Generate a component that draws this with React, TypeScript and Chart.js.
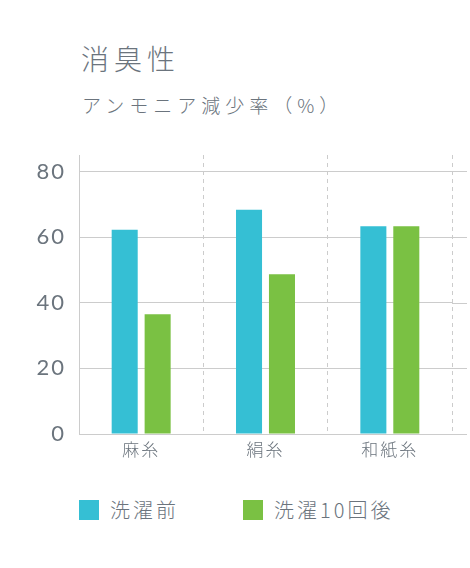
import { useEffect, useRef } from 'react';
import { Chart, registerables } from 'chart.js';

Chart.register(...registerables);

const categories = ['麻糸', '絹糸', '和紙糸'];
const seriesLabels = ['洗濯前', '洗濯10回後'];
const beforeWash = [62.2, 68.3, 63.3];
const afterWash = [36.5, 48.7, 63.3];
const seriesColors = ['#35bfd4', '#7ac143'];
const yMax = 85;
const yStep = 20;

const TEXT = '#6b747d';
const GRID = '#cccccc';
const CJK = "'Noto Sans CJK JP', sans-serif";

// canvas text gets a bit of tracking, like the rest of the page
const spacingPlugin = {
  id: 'spacing',
  beforeDraw(chart: any) {
    chart.ctx.letterSpacing = '2px';
  },
};

// horizontal rules run a little past the last category boundary
const gridTailPlugin = {
  id: 'gridTail',
  afterDraw(chart: any) {
    const { ctx, chartArea, scales } = chart;
    const y = scales.y;
    ctx.save();
    ctx.strokeStyle = GRID;
    ctx.lineWidth = 1;
    y.ticks.forEach((t: any) => {
      const py = Math.round(y.getPixelForValue(t.value)) + 0.5;
      ctx.beginPath();
      ctx.moveTo(chartArea.right, py);
      ctx.lineTo(chartArea.right + 15, py);
      ctx.stroke();
    });
    ctx.restore();
  },
};

function BarChart() {
  const canvasRef = useRef<HTMLCanvasElement | null>(null);

  useEffect(() => {
    if (!canvasRef.current) return;
    const chart = new Chart(canvasRef.current, {
      type: 'bar',
      data: {
        labels: categories,
        datasets: [
          {
            label: seriesLabels[0],
            data: beforeWash,
            backgroundColor: seriesColors[0],
            categoryPercentage: 0.53,
            barPercentage: 0.79,
          },
          {
            label: seriesLabels[1],
            data: afterWash,
            backgroundColor: seriesColors[1],
            categoryPercentage: 0.53,
            barPercentage: 0.79,
          },
        ],
      },
      options: {
        animation: false,
        responsive: true,
        maintainAspectRatio: false,
        layout: { padding: { top: 15, right: 18, bottom: 0, left: 0 } },
        plugins: {
          legend: { display: false },
          tooltip: { enabled: false },
        },
        scales: {
          x: {
            grid: {
              offset: true,
              drawTicks: false,
              color: (c: any) => (c.index === 0 ? 'rgba(0,0,0,0)' : GRID),
            },
            border: { display: true, color: GRID, dash: [4, 4] },
            ticks: {
              color: TEXT,
              padding: 5,
              font: { family: CJK, size: 17, weight: 300 },
            },
            afterFit: (s: any) => {
              s.height = 46;
            },
          },
          y: {
            min: 0,
            max: yMax,
            grid: { drawTicks: false, color: GRID },
            border: { display: true, color: GRID },
            ticks: {
              stepSize: yStep,
              includeBounds: false,
              color: TEXT,
              padding: 13,
              font: { family: "Lato, 'Noto Sans', sans-serif", size: 22, weight: 400 },
            },
            afterFit: (s: any) => {
              s.width = 79;
              s.paddingTop = 0;
              s.paddingBottom = 0;
            },
          },
        },
      },
      plugins: [spacingPlugin, gridTailPlugin],
    });
    return () => chart.destroy();
  }, []);

  return (
    <div style={{ position: 'absolute', left: 0, top: 140, width: 470, height: 340 }}>
      <canvas ref={canvasRef} />
    </div>
  );
}

export default function App() {
  useEffect(() => {
    document.body.style.margin = '0';
  }, []);

  return (
    <div style={{ position: 'relative', width: 470, height: 568, fontFamily: CJK, color: TEXT, background: '#fff' }}>
      <div style={{ position: 'absolute', left: 81, top: 44, fontSize: 28, lineHeight: '28px', letterSpacing: 5, fontWeight: 300 }}>
        消臭性
      </div>
      <div style={{ position: 'absolute', left: 82, top: 95, fontSize: 19, lineHeight: '19px', letterSpacing: 5, fontWeight: 300 }}>
        アンモニア減少率（%）
      </div>
      <BarChart />
      <div style={{ position: 'absolute', left: 79, top: 500, display: 'flex', alignItems: 'center' }}>
        {seriesLabels.map((label, i) => (
          <div key={label} style={{ display: 'flex', alignItems: 'center', marginRight: 64 }}>
            <span style={{ width: 20, height: 20, background: seriesColors[i], display: 'inline-block', marginRight: 11 }} />
            <span style={{ fontSize: 20, lineHeight: '20px', letterSpacing: 3, fontWeight: 300 }}>{label}</span>
          </div>
        ))}
      </div>
    </div>
  );
}
